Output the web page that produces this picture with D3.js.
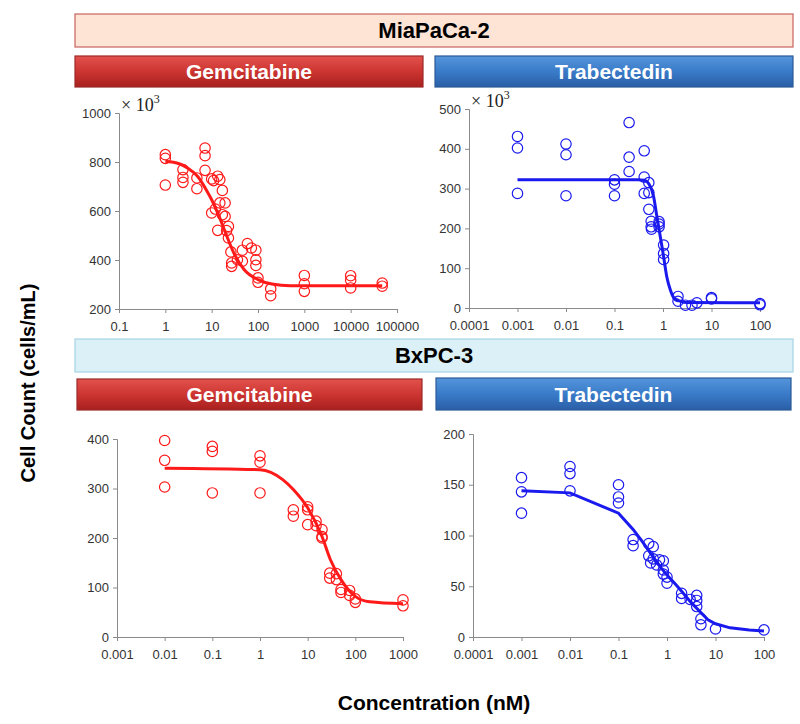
<!DOCTYPE html>
<html>
<head>
<meta charset="utf-8">
<script src="https://cdn.jsdelivr.net/npm/d3@7"></script>
<style>
  body { margin: 0; background: #fff; }
  svg { display: block; font-family: 'Liberation Sans', Arial, sans-serif; }
</style>
</head>
<body>
<svg id="chart" width="800" height="724"></svg>
<script>
// MiaPaCa-2 / gemcitabine (cells x 10^3)
const miaGemDose = [1, 1, 1, 2.4, 2.4, 2.4, 4.8, 4.8, 7.2, 7.2, 7.2, 10, 10, 11, 12, 13.5, 13.5, 15, 15, 17, 17, 19.5, 19.5, 21, 23, 23, 26, 27, 27, 36, 46, 46, 59, 72, 90, 90, 90, 100, 100, 188, 188, 1000, 1000, 1000, 10000, 10000, 10000, 48000, 48000]
const miaGemCells = [830, 815, 706, 769, 737, 717, 735, 691, 857, 826, 766, 731, 592, 724, 608, 742, 521, 728, 633, 684, 585, 633, 578, 520, 537, 490, 433, 388, 374, 401, 440, 395, 467, 449, 440, 401, 378, 327, 309, 282, 254, 337, 303, 272, 336, 317, 286, 306, 293]
const miaGemFitDose = [1, 2, 3, 5, 8, 10, 15, 20, 30, 50, 100, 200, 500, 1000, 48000]
const miaGemFitCells = [803, 793, 776, 741, 680, 646, 571, 510, 429, 361, 320, 302, 295, 295, 295]

// MiaPaCa-2 / trabectedin (cells x 10^3)
const miaTrabDose = [0.001, 0.001, 0.001, 0.01, 0.01, 0.01, 0.1, 0.1, 0.1, 0.2, 0.2, 0.2, 0.41, 0.41, 0.41, 0.51, 0.51, 0.51, 0.57, 0.57, 0.58, 0.83, 0.83, 0.83, 1.03, 1.03, 1.03, 2.04, 2.04, 2.9, 3.96, 5, 10, 10, 100, 100]
const miaTrabCells = [431, 402, 288, 412, 385, 282, 322, 311, 282, 466, 379, 343, 395, 329, 288, 315, 290, 248, 218, 204, 198, 217, 211, 204, 158, 137, 122, 29, 17, 7, 7, 13, 26, 23, 11, 8]
const miaTrabFitDose = [0.001, 0.01, 0.1, 0.3, 0.41, 0.55, 0.64, 0.75, 0.88, 1.03, 1.2, 1.42, 1.66, 2.3, 3.1, 100]
const miaTrabFitCells = [322, 322, 322, 322, 321, 305, 280, 229, 179, 129, 78, 45, 26, 17, 14, 13]

// BxPC-3 / gemcitabine
const bxGemDose = [0.01, 0.01, 0.01, 0.1, 0.1, 0.1, 1, 1, 1, 5, 5, 10, 10, 10, 15, 15, 20, 20, 20, 29, 29, 40, 40, 50, 50, 76, 76, 100, 100, 1000, 1000]
const bxGemCells = [397, 357, 303, 385, 375, 291, 366, 353, 291, 257, 244, 263, 257, 227, 234, 225, 217, 203, 200, 129, 119, 128, 116, 96, 90, 94, 84, 77, 70, 75, 63]
const bxGemFitDose = [0.01, 1, 3, 5, 10, 20, 30, 50, 100, 200, 1000]
const bxGemFitCells = [341, 338, 318, 298, 261, 203, 156, 116, 82, 71, 67]

// BxPC-3 / trabectedin
const bxTrabDose = [0.001, 0.001, 0.001, 0.01, 0.01, 0.01, 0.1, 0.1, 0.1, 0.2, 0.2, 0.42, 0.42, 0.46, 0.52, 0.52, 0.61, 0.7, 0.84, 0.84, 0.84, 1, 1, 2, 2, 3, 4.1, 4.1, 4.1, 5, 5, 10, 100]
const bxTrabCells = [157, 143, 122, 168, 161, 144, 150, 138, 132, 96, 90, 92, 80, 73, 89, 77, 71, 76, 75, 66, 62, 59, 53, 43, 38, 37, 41, 36, 30, 18, 12, 8, 7]
const bxTrabFitDose = [0.001, 0.01, 0.1, 0.2, 0.3, 0.5, 0.7, 1, 1.5, 2, 3, 5, 7, 10, 20, 50, 100]
const bxTrabFitCells = [144, 142, 122, 106, 95, 80, 70, 61, 52, 45, 35, 24, 17, 13, 9, 7, 6]

// tick values
const miaGemXTicks = [0.1, 1, 10, 100, 1000, 10000, 100000]
const miaGemYTicks = [200, 400, 600, 800, 1000]
const miaTrabXTicks = [0.0001, 0.001, 0.01, 0.1, 1, 10, 100]
const miaTrabYTicks = [0, 100, 200, 300, 400, 500]
const bxGemXTicks = [0.001, 0.01, 0.1, 1, 10, 100, 1000]
const bxGemYTicks = [0, 100, 200, 300, 400]
const bxTrabXTicks = [0.0001, 0.001, 0.01, 0.1, 1, 10, 100]
const bxTrabYTicks = [0, 50, 100, 150, 200]

const RED = '#ff1a1a'
const BLUE = '#1a1aee'

const svg = d3.select('#chart')

// gradients for the drug bars
const defs = svg.append('defs')
function addGradient (id, stops) {
  const g = defs.append('linearGradient').attr('id', id).attr('x1', 0).attr('x2', 0).attr('y1', 0).attr('y2', 1)
  stops.forEach(s => g.append('stop').attr('offset', s[0]).attr('stop-color', s[1]))
}
addGradient('redGrad', [[0, '#e3524d'], [0.5, '#cc3531'], [1, '#a8201e']])
addGradient('blueGrad', [[0, '#5595db'], [0.5, '#3a7bc9'], [1, '#2a5ea6']])

function header (x, y, w, h, fill, stroke, label, color, size) {
  svg.append('rect')
    .attr('x', x).attr('y', y).attr('width', w).attr('height', h)
    .attr('fill', fill).attr('stroke', stroke).attr('stroke-width', 1.2)
  svg.append('text')
    .attr('x', x + w / 2).attr('y', y + h / 2)
    .attr('text-anchor', 'middle').attr('dy', '0.36em')
    .attr('font-weight', 'bold').attr('font-size', size)
    .attr('fill', color)
    .text(label)
}

header(75, 14, 718, 33, '#fde4d5', '#c8625e', 'MiaPaCa-2', '#000', 22)
header(75, 56, 348, 31, 'url(#redGrad)', '#9c2a27', 'Gemcitabine', '#fff', 21)
header(435, 56, 358, 31, 'url(#blueGrad)', '#2b5a97', 'Trabectedin', '#fff', 21)
header(75, 339, 718, 33, '#dcf0f8', '#a6d4e6', 'BxPC-3', '#000', 22)
header(77, 379, 345, 31, 'url(#redGrad)', '#9c2a27', 'Gemcitabine', '#fff', 21)
header(436, 378, 355, 32, 'url(#blueGrad)', '#2b5a97', 'Trabectedin', '#fff', 21)

function xLabel (d) {
  return d < 1 ? String(+d.toFixed(4)) : d3.format('d')(d)
}

function panel (opt) {
  const x = d3.scaleLog().domain(opt.xDomain).range(opt.xRange)
  const y = d3.scaleLinear().domain(opt.yDomain).range(opt.yRange)
  const g = svg.append('g')

  g.append('g')
    .attr('transform', 'translate(0,' + opt.yRange[0] + ')')
    .call(d3.axisBottom(x).tickValues(opt.xTicks).tickFormat(xLabel).tickSize(4).tickPadding(9))
  g.append('g')
    .attr('transform', 'translate(' + opt.xRange[0] + ',0)')
    .call(d3.axisLeft(y).tickValues(opt.yTicks).tickFormat(d3.format('d')).tickSize(4).tickPadding(4))
  g.selectAll('.domain, .tick line').attr('stroke', '#8a8a8a')
  g.selectAll('.tick text').attr('fill', '#333').attr('font-size', 13)

  const fit = opt.fitDose.map((d, i) => [d, opt.fitCells[i]])
  g.append('path')
    .datum(fit)
    .attr('fill', 'none')
    .attr('stroke', opt.color)
    .attr('stroke-width', 3)
    .attr('d', d3.line().x(d => x(d[0])).y(d => y(d[1])).curve(opt.curve || d3.curveMonotoneX))

  g.selectAll('circle.pt')
    .data(opt.dose.map((d, i) => [d, opt.cells[i]]))
    .enter()
    .append('circle')
    .attr('class', 'pt')
    .attr('cx', d => x(d[0]))
    .attr('cy', d => y(d[1]))
    .attr('r', 5.2)
    .attr('fill', 'none')
    .attr('stroke', opt.color)
    .attr('stroke-width', 1.2)

  if (opt.scaleNote) {
    const t = g.append('text')
      .attr('x', opt.xRange[0] + 2).attr('y', opt.yRange[1] - 2)
      .attr('font-family', "'Liberation Serif', 'DejaVu Serif', serif")
      .attr('font-size', 18).attr('fill', '#222')
    t.append('tspan').text('× 10')
    t.append('tspan').attr('dy', -8).attr('font-size', 12).text('3')
  }
}

panel({
  xDomain: [0.1, 100000], xRange: [119, 397], yDomain: [200, 1000], yRange: [309, 113],
  xTicks: miaGemXTicks, yTicks: miaGemYTicks, dose: miaGemDose, cells: miaGemCells,
  fitDose: miaGemFitDose, fitCells: miaGemFitCells, color: RED, scaleNote: true
})
panel({
  xDomain: [0.0001, 100], xRange: [469, 760], yDomain: [0, 500], yRange: [308, 109],
  xTicks: miaTrabXTicks, yTicks: miaTrabYTicks, dose: miaTrabDose, cells: miaTrabCells,
  fitDose: miaTrabFitDose, fitCells: miaTrabFitCells, color: BLUE, scaleNote: true
})
panel({
  xDomain: [0.001, 1000], xRange: [117, 403], yDomain: [0, 400], yRange: [637, 439],
  xTicks: bxGemXTicks, yTicks: bxGemYTicks, dose: bxGemDose, cells: bxGemCells,
  fitDose: bxGemFitDose, fitCells: bxGemFitCells, color: RED
})
panel({
  xDomain: [0.0001, 100], xRange: [473, 764], yDomain: [0, 200], yRange: [637, 434],
  xTicks: bxTrabXTicks, yTicks: bxTrabYTicks, dose: bxTrabDose, cells: bxTrabCells,
  fitDose: bxTrabFitDose, fitCells: bxTrabFitCells, color: BLUE, curve: d3.curveLinear
})

// shared axis titles
svg.append('text')
  .attr('transform', 'translate(28,383) rotate(-90)')
  .attr('text-anchor', 'middle').attr('dy', '0.35em')
  .attr('font-weight', 'bold').attr('font-size', 20)
  .text('Cell Count (cells/mL)')
svg.append('text')
  .attr('x', 434).attr('y', 703)
  .attr('text-anchor', 'middle').attr('dy', '0.35em')
  .attr('font-weight', 'bold').attr('font-size', 21)
  .text('Concentration (nM)')
</script>
</body>
</html>
